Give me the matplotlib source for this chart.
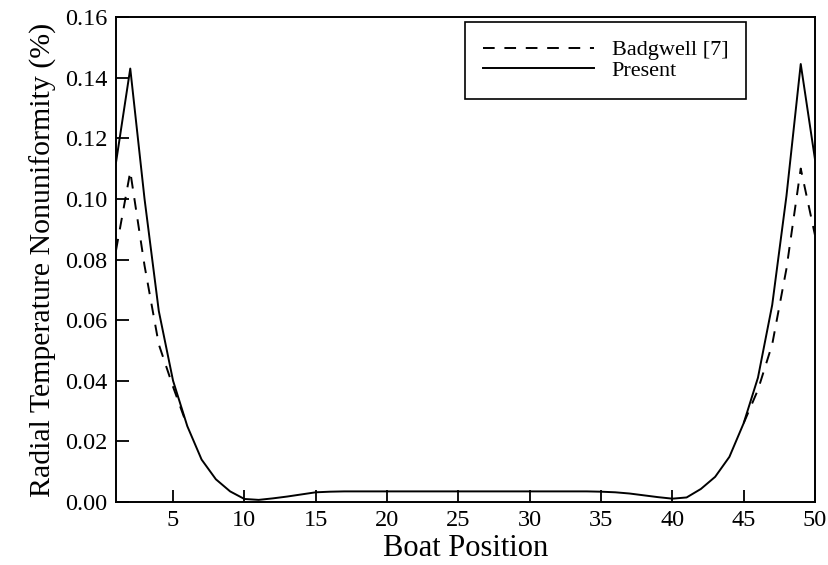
import numpy as np
import matplotlib
matplotlib.use("Agg")
import matplotlib.pyplot as plt

plt.rcParams['font.family'] = ['Liberation Serif', 'DejaVu Serif']

# boat positions 1..50
boat = np.arange(1, 51)

# Present (solid) curve
present = [0.112, 0.143, 0.100, 0.063, 0.040, 0.025, 0.014, 0.0075, 0.0035, 0.001,
           0.0007, 0.0012, 0.0018, 0.0025, 0.0032, 0.0034, 0.0035, 0.0035, 0.0035, 0.0035,
           0.0035, 0.0035, 0.0035, 0.0035, 0.0035, 0.0035, 0.0035, 0.0035, 0.0035, 0.0035,
           0.0035, 0.0035, 0.0035, 0.0035, 0.0034, 0.0032, 0.0028, 0.0022, 0.0016, 0.0011,
           0.0015, 0.0043, 0.0083, 0.0149, 0.026, 0.041, 0.065, 0.101, 0.1445, 0.113]

# Badgwell [7] (dashed), only the two edge parts
badgwell = [0.083, 0.109, 0.078, 0.052, 0.038, 0.025] + [np.nan] * 38 + \
           [0.026, 0.037, 0.052, 0.077, 0.110, 0.088]

fig = plt.figure(figsize=(8.29, 5.65), dpi=100)
ax = fig.add_axes([116 / 829, 63 / 565, 699 / 829, 485 / 565])

ax.plot(boat, badgwell, color='black', lw=1.4, ls=(0, (6, 5)), label='Badgwell [7]')
ax.plot(boat, present, color='black', lw=1.4, label='Present')

ax.set_xlim(1, 50)
ax.set_ylim(0, 0.16)
ax.set_xticks([5, 10, 15, 20, 25, 30, 35, 40, 45, 50])
ax.set_yticks(np.arange(0, 0.161, 0.02))
ax.yaxis.set_major_formatter(matplotlib.ticker.FormatStrFormatter('%.2f'))
ax.tick_params(direction='in', length=9, width=1.3, labelsize=17.5,
               top=False, right=False, pad=6)
for s in ax.spines.values():
    s.set_linewidth(1.4)

ax.set_xlabel('Boat Position', fontsize=22, labelpad=2)
ax.set_ylabel('Radial Temperature Nonuniformity (%)', fontsize=21.5, labelpad=6)

leg = ax.legend(loc='upper left', bbox_to_anchor=((465 - 116) / 699, (502 - 22) / 485),
                bbox_transform=ax.transAxes, borderaxespad=0, fontsize=16,
                handlelength=5.0, handletextpad=0.8, labelspacing=0.0,
                borderpad=0.8, fancybox=False, framealpha=1, edgecolor='black')
leg.get_frame().set_linewidth(1.2)

fig.savefig('out.png', dpi=100)
